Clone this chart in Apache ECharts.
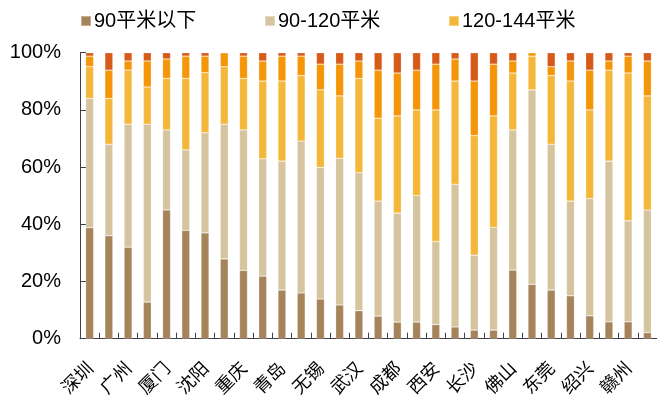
<!DOCTYPE html>
<html>
<head>
<meta charset="utf-8">
<script src="https://cdn.jsdelivr.net/npm/echarts@6/dist/echarts.min.js"></script>
<style>html,body{margin:0;padding:0;background:#fff;}#c{width:657px;height:400px;}</style>
</head>
<body>
<div id="c"></div>
<script>
// Shown city labels (every other category is labelled)
var cityLabels = ['深圳','广州','厦门','沈阳','重庆','青岛','无锡','武汉','成都','西安','长沙','佛山','东莞','绍兴','赣州'];
var yTicks = [0, 20, 40, 60, 80, 100];
var seriesNames = ['90平米以下','90-120平米','120-144平米','144-180平米','180平米以上'];

var s90 = [38.8,36,32,12.8,45,37.9,37,27.9,23.9,21.9,17,16,13.9,11.8,9.8,7.9,5.8,5.8,4.9,4.1,3,3,24,19,17,15,8,5.9,5.9,2.1];
var s90to120 = [45.2,32,43,62.2,28,28.1,35,47.1,49.1,41,45.1,53.1,46,51.3,48.2,40.2,38.1,44.2,29.1,49.9,26.2,35.9,49,68,51,33.1,41,56.2,35.3,42.9];
var s120to144 = [11.1,16,18.9,13,18,25,21,20.1,18,27.2,28,22.9,27.1,21.8,33,29,34,30,46,36.1,41.8,39,19.9,11.8,24,42,31,31.8,51.7,39.9];
var s144to180 = [3.7,9.9,3.2,9.1,6.8,7.8,5.8,4.9,7.8,7,8.7,6.8,9,11.1,6.1,16.8,15,13.9,16,7.7,19.1,18.1,4.2,1.2,3.1,7,13.9,3.2,5.9,12.2];
var s180plus = [1.2,6.1,2.9,2.9,2.2,1.2,1.2,0,1.2,2.9,1.2,1.2,4,4,2.9,6.1,7.1,6.1,4,2.2,9.9,4,2.9,0,4.9,2.9,6.1,2.9,1.2,2.9];

var colors = ['#A6845A','#D5C49D','#F4B73A','#F59508','#D65A18'];

var categories = [];
cityLabels.forEach(function(c){ categories.push(c); categories.push(''); });

var allData = [s90, s90to120, s120to144, s144to180, s180plus];
var series = allData.map(function(d, i){
  return {
    name: seriesNames[i],
    type: 'bar',
    stack: 'total',
    barWidth: 8,
    data: d,
    itemStyle: { color: colors[i], borderColor: 'rgba(255,255,255,0.35)', borderWidth: 0.6 }
  };
});

var legendX = [75, 259, 443];
var legends = [0,1,2].map(function(i){
  return {
    left: legendX[i], top: 6,
    data: [seriesNames[i]],
    icon: 'rect', itemWidth: 10, itemHeight: 10, itemGap: 0,
    textStyle: { fontSize: 20, color: '#000', fontFamily: 'Liberation Sans, Noto Sans CJK SC', padding: [0,0,0,-2] },
    selectedMode: false
  };
});

var chart = echarts.init(document.getElementById('c'), null, {renderer: 'canvas'});
chart.setOption({
  animation: false,
  color: colors,
  legend: legends,
  grid: { left: 80, right: -2, top: 52.7, bottom: 61.3, containLabel: false },
  xAxis: {
    type: 'category',
    data: categories,
    boundaryGap: true,
    axisLine: { lineStyle: { color: '#404040', width: 1 } },
    axisTick: { show: true, inside: true, length: 6, interval: 0, lineStyle: { color: '#404040' } },
    axisLabel: { interval: 0, rotate: 45, fontSize: 18, color: '#000', margin: 26, fontFamily: 'Noto Sans CJK SC' }
  },
  yAxis: {
    type: 'value',
    min: yTicks[0], max: yTicks[yTicks.length-1], interval: 20,
    axisLine: { show: true, lineStyle: { color: '#404040', width: 1 } },
    axisTick: { show: true, inside: true, length: 6, lineStyle: { color: '#404040' } },
    splitLine: { show: false },
    axisLabel: { formatter: '{value}%', fontSize: 20, color: '#000', margin: 19, fontFamily: 'Liberation Sans' }
  },
  series: series
});
</script>
</body>
</html>
